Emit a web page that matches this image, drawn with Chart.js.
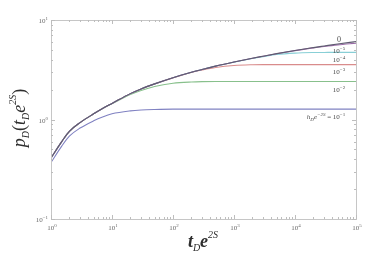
<!DOCTYPE html>
<html>
<head>
<meta charset="utf-8">
<script src="https://cdn.jsdelivr.net/npm/chart.js@4.4.0/dist/chart.umd.min.js"></script>
<style>
  html, body { margin: 0; padding: 0; background: #fff; }
  #wrap { width: 369px; height: 264px; }
</style>
</head>
<body>
<div id="wrap"><canvas id="chart" width="369" height="264"></canvas></div>
<script>
// dimensionless time t_D e^{2S}
const tValues = [1, 1.5, 2, 3, 5, 7, 10, 20, 30, 50, 100, 200, 300, 500, 1000, 2000, 3000, 5000, 10000, 20000, 30000, 50000, 100000];

// p_D, one array per h_D e^{-2S}
const pZero = [0.41, 0.60, 0.76, 0.93, 1.14, 1.29, 1.45, 1.82, 2.03, 2.28, 2.63, 2.98, 3.18, 3.44, 3.78, 4.13, 4.33, 4.59, 4.94, 5.28, 5.48, 5.74, 6.07];
const pE5   = [0.41, 0.60, 0.76, 0.93, 1.14, 1.29, 1.45, 1.82, 2.03, 2.28, 2.63, 2.98, 3.18, 3.44, 3.78, 4.13, 4.33, 4.58, 4.92, 5.25, 5.42, 5.62, 5.85];
const pE4   = [0.41, 0.60, 0.76, 0.93, 1.14, 1.29, 1.45, 1.82, 2.03, 2.28, 2.63, 2.98, 3.18, 3.44, 3.77, 4.11, 4.28, 4.50, 4.65, 4.71, 4.72, 4.73, 4.73];
const pE3   = [0.41, 0.60, 0.76, 0.93, 1.14, 1.29, 1.45, 1.82, 2.03, 2.28, 2.62, 2.97, 3.14, 3.33, 3.49, 3.55, 3.56, 3.56, 3.56, 3.56, 3.56, 3.56, 3.56];
const pE2   = [0.41, 0.60, 0.76, 0.93, 1.14, 1.29, 1.44, 1.78, 1.96, 2.15, 2.31, 2.38, 2.40, 2.41, 2.41, 2.41, 2.41, 2.41, 2.41, 2.41, 2.41, 2.41, 2.41];
const pE1   = [0.37, 0.54, 0.68, 0.82, 0.97, 1.06, 1.14, 1.22, 1.245, 1.26, 1.27, 1.27, 1.27, 1.27, 1.27, 1.27, 1.27, 1.27, 1.27, 1.27, 1.27, 1.27, 1.27];

const seriesNames = ['0', '1e-5', '1e-4', '1e-3', '1e-2', '1e-1'];
const seriesColors = ['#5f5c70', '#9b6ca8', '#88cfd6', '#d98c8c', '#88c08c', '#8082c2'];

// axis decades and their exponents
const xDecades = [1, 10, 100, 1000, 10000, 100000];
const xExps = ['0', '1', '2', '3', '4', '5'];
const yDecades = [0.1, 1, 10];
const yExps = ['-1', '0', '1'];

const allSeries = [pZero, pE5, pE4, pE3, pE2, pE1];

const SERIF = '"Liberation Serif", "DejaVu Serif", serif';

function setFont(ctx, p) {
  ctx.font = (p[3] || '') + ' ' + p[1] + 'px ' + SERIF;
}

// draw text made of parts [text, size, shiftY, style]
function richText(ctx, parts, x, y, align) {
  let w = 0;
  parts.forEach(p => { setFont(ctx, p); w += ctx.measureText(p[0]).width; });
  let cx = align === 'center' ? x - w / 2 : (align === 'right' ? x - w : x);
  ctx.textAlign = 'left';
  ctx.textBaseline = 'alphabetic';
  parts.forEach(p => {
    setFont(ctx, p);
    ctx.fillText(p[0], cx, y + p[2]);
    cx += ctx.measureText(p[0]).width;
  });
}

function minorValues(decades) {
  const out = [];
  for (let i = 0; i < decades.length - 1; i++) {
    for (let m = 1; m < 10; m++) out.push(decades[i] * m);
  }
  out.push(decades[decades.length - 1]);
  return out;
}

const framePlugin = {
  id: 'frame',
  afterDraw(chart) {
    const { ctx, chartArea: a, scales: { x, y } } = chart;
    ctx.save();
    ctx.strokeStyle = '#c6c6c6';
    ctx.lineWidth = 1;
    ctx.strokeRect(a.left + 0.5, a.top + 0.5, a.right - a.left, a.bottom - a.top);

    // inward tick marks on all four sides
    ctx.strokeStyle = '#bdbdbd';
    ctx.beginPath();
    minorValues(xDecades).forEach(v => {
      const px = Math.round(x.getPixelForValue(v)) + 0.5;
      const len = xDecades.includes(v) ? 4 : 2;
      ctx.moveTo(px, a.bottom); ctx.lineTo(px, a.bottom - len);
      ctx.moveTo(px, a.top); ctx.lineTo(px, a.top + len);
    });
    minorValues(yDecades).forEach(v => {
      const py = Math.round(y.getPixelForValue(v)) + 0.5;
      const len = yDecades.includes(v) ? 4 : 2;
      ctx.moveTo(a.left, py); ctx.lineTo(a.left + len, py);
      ctx.moveTo(a.right, py); ctx.lineTo(a.right - len, py);
    });
    ctx.stroke();

    // tick labels
    ctx.fillStyle = '#6a6a6a';
    xDecades.forEach((v, i) => {
      richText(ctx, [['10', 7, 0], [xExps[i], 5, -3]], x.getPixelForValue(v) + 1, a.bottom + 11, 'center');
    });
    yDecades.forEach((v, i) => {
      const e = yExps[i].replace('-', '\u2212');
      richText(ctx, [['10', 7, 0], [e, 5, -3]], a.left - 3, y.getPixelForValue(v) + 3, 'right');
    });

    // axis titles
    ctx.fillStyle = '#2e2e2e';
    richText(ctx, [['t', 18, 0, 'italic bold'], ['D', 10, 4, 'italic'], ['e', 18, 0, 'italic bold'], ['2S', 10, -9, 'italic']], 203, 247, 'center');
    ctx.save();
    ctx.translate(25, 118);
    ctx.rotate(-Math.PI / 2);
    richText(ctx, [['p', 18, 0, 'italic'], ['D', 10, 4, 'italic'], ['(', 18, 0], ['t', 18, 0, 'italic'], ['D', 10, 4, 'italic'],
      ['e', 18, 0, 'italic'], ['2S', 10, -9, 'italic'], [')', 18, 0]], 0, 0, 'center');
    ctx.restore();

    // curve labels
    ctx.fillStyle = '#4a4a4a';
    richText(ctx, [['0', 8, 0]], 339, 42, 'center');
    richText(ctx, [['10', 7, 0], ['\u22125', 5, -3]], 339, 53, 'center');
    richText(ctx, [['10', 7, 0], ['\u22124', 5, -3]], 339, 62, 'center');
    richText(ctx, [['10', 7, 0], ['\u22123', 5, -3]], 339, 74, 'center');
    richText(ctx, [['10', 7, 0], ['\u22122', 5, -3]], 339, 92, 'center');
    richText(ctx, [['h', 7, 0, 'italic'], ['D', 5, 2, 'italic'], ['e', 7, 0, 'italic'], ['\u22122S', 5, -3, 'italic'],
      [' = 10', 7, 0], ['\u22121', 5, -3]], 326, 119, 'center');
    ctx.restore();
  }
};

const datasets = allSeries.map((vals, i) => ({
  label: seriesNames[i],
  data: tValues.map((t, k) => ({ x: t, y: vals[k] })),
  borderColor: seriesColors[i],
  borderWidth: 1.1,
  pointRadius: 0,
  fill: false,
  cubicInterpolationMode: 'monotone'
}));

new Chart(document.getElementById('chart'), {
  type: 'line',
  data: { datasets },
  options: {
    responsive: false,
    animation: false,
    layout: { padding: { top: 20, right: 13, left: 0, bottom: 0 } },
    plugins: { legend: { display: false }, tooltip: { enabled: false } },
    scales: {
      x: {
        type: 'logarithmic', min: 1, max: 100000,
        ticks: { display: false }, grid: { display: false }, border: { display: false },
        afterFit(s) { s.height = 45; }
      },
      y: {
        type: 'logarithmic', min: 0.1, max: 10,
        ticks: { display: false }, grid: { display: false }, border: { display: false },
        afterFit(s) { s.width = 51; }
      }
    }
  },
  plugins: [framePlugin]
});
</script>
</body>
</html>
